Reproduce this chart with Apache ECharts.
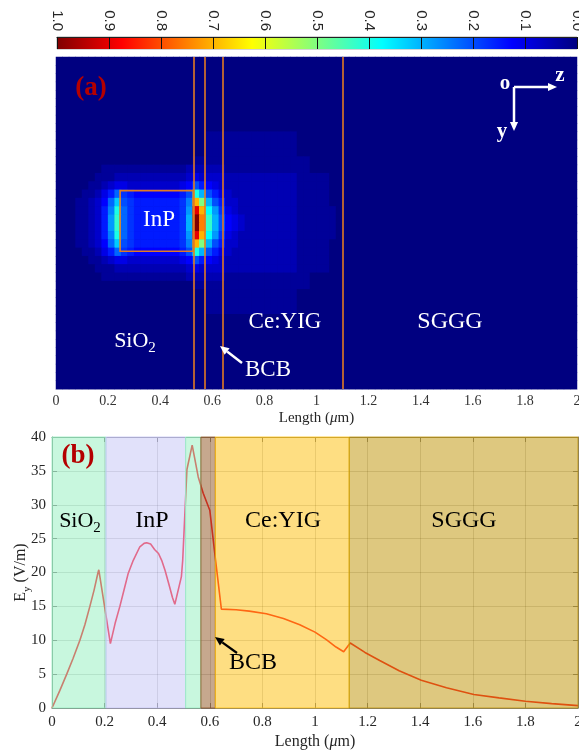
<!DOCTYPE html>
<html>
<head>
<meta charset="utf-8">
<title>InP / Ce:YIG mode field</title>
<script src="https://cdn.jsdelivr.net/npm/echarts@6/dist/echarts.min.js"></script>
<style>
html, body { margin: 0; padding: 0; background: #fff; }
#chart { width: 579px; height: 754px; }
</style>
</head>
<body>
<div id="chart"></div>
<script>
// ---- (b) Ey along the centre line ----
var lengthUm = [0, 0.03, 0.056, 0.08, 0.106, 0.125, 0.144, 0.16, 0.175, 0.178, 0.222, 0.24, 0.258, 0.275, 0.29,
  0.309, 0.334, 0.35, 0.36, 0.375, 0.39, 0.405, 0.417, 0.43, 0.445, 0.458, 0.467, 0.492, 0.497, 0.513,
  0.533, 0.556, 0.575, 0.6, 0.622, 0.644, 0.7, 0.75, 0.815, 0.88, 0.942, 1.0, 1.043, 1.08, 1.109,
  1.134, 1.19, 1.246, 1.32, 1.404, 1.5, 1.604, 1.7, 1.8, 1.9, 2.0];
var eyValues = [0, 2.6, 5.0, 7.3, 10.0, 12.3, 15.0, 17.4, 20.0, 20.4, 9.5, 12.5, 15.0, 17.6, 19.9,
  21.8, 23.8, 24.3, 24.4, 24.2, 23.4, 22.8, 21.8, 20.3, 18.2, 16.3, 15.3, 19.4, 21.8, 35.2,
  38.8, 34.1, 31.7, 29.2, 21.8, 14.6, 14.5, 14.3, 13.9, 13.2, 12.3, 11.2, 10.1, 9.0, 8.3,
  9.6, 8.2, 7.0, 5.5, 4.1, 3.0, 2.0, 1.5, 1.0, 0.65, 0.35];

// layer bands of (b), in um
var layerStart = [0, 0.205, 0.508, 0.566, 0.621, 1.13];
var layerEnd   = [0.205, 0.508, 0.566, 0.621, 1.13, 2];
var layerRgb   = ['145,239,189', '195,195,245', '145,239,189', '141,81,29', '253,189,5', '189,145,0'];

// ---- (a) ----
var interfaceX = [0.527, 0.573, 0.635, 1.096];   // orange lines, um
var inpBoxX = [0.246, 0.527];                    // um
var inpBoxRow = [16.1, 23.4];                    // in map rows

// normalised |E| map, one string per row (top -> bottom), one char per 0.025 um column
// value = position of the char in fieldLevels / 40  ('|' only groups the columns)
var fieldLevels = '0123456789abcdefghijklmnopqrstuvwxyzABCDE';
var fieldRows = [
  '0000|000000|00000000000|00|00|000000000|0000000000|0000000000|0000000000|0000000000|000000',
  '0000|000000|00000000000|00|00|000000000|0000000000|0000000000|0000000000|0000000000|000000',
  '0000|000000|00000000000|00|00|000000000|0000000000|0000000000|0000000000|0000000000|000000',
  '0000|000000|00000000000|00|00|000000000|0000000000|0000000000|0000000000|0000000000|000000',
  '0000|000000|00000000000|00|00|000000000|0000000000|0000000000|0000000000|0000000000|000000',
  '0000|000000|00000000000|00|00|000000000|0000000000|0000000000|0000000000|0000000000|000000',
  '0000|000000|00000000000|00|00|000000000|0000000000|0000000000|0000000000|0000000000|000000',
  '0000|000000|00000000000|00|00|000000000|0000000000|0000000000|0000000000|0000000000|000000',
  '0000|000000|00000000000|00|00|000000000|0000000000|0000000000|0000000000|0000000000|000000',
  '0000|000000|00000000000|00|11|111111111111|0000000|0000000000|0000000000|0000000000|000000',
  '0000|000000|00000000000|00|11|111111111111|0000000|0000000000|0000000000|0000000000|000000',
  '0000|000000|00000000000|00|11|111111111111|0000000|0000000000|0000000000|0000000000|000000',
  '0000|000000|00000000000|11|11|11111111111111|00000|0000000000|0000000000|0000000000|000000',
  '0000|000111|11111111112|22|22|2|1111111111111|00000|0000000000|0000000000|0000000000|000000',
  '0000|001112|22222222223|43|33|3|22222222222|11111|00|0000000000|0000000000|0000000000|000000',
  '0000|011234|43333333345|86|54|3|22222222222|11111|00|0000000000|0000000000|0000000000|000000',
  '0000|112469|76555555568|gc|86|43|2222222222|11111|00|0000000000|0000000000|0000000000|000000',
  '0001|12359d|8766666667a|sk|c8|633|222222222|11111|00|0000000000|0000000000|0000000000|000000',
  '0001|1236ag|9766666667b|As|fb|743|222222222|111111|0|0000000000|0000000000|0000000000|000000',
  '0001|1236bh|9766666667c|Eu|hc|8543|22222222|111111|0|0000000000|0000000000|0000000000|000000',
  '0001|1236bh|9766666667c|Eu|hc|8543|22222222|111111|0|0000000000|0000000000|0000000000|000000',
  '0001|1236ag|9766666667b|As|fb|743|222222222|111111|0|0000000000|0000000000|0000000000|000000',
  '0001|12359d|8766666667a|sk|c8|633|222222222|11111|00|0000000000|0000000000|0000000000|000000',
  '0000|112469|76555555568|gc|86|43|2222222222|11111|00|0000000000|0000000000|0000000000|000000',
  '0000|011234|43333333345|86|54|3|22222222222|11111|00|0000000000|0000000000|0000000000|000000',
  '0000|001112|22222222223|43|33|3|22222222222|11111|00|0000000000|0000000000|0000000000|000000',
  '0000|000111|11111111112|22|22|2|1111111111111|00000|0000000000|0000000000|0000000000|000000',
  '0000|000000|00000000000|11|11|11111111111111|00000|0000000000|0000000000|0000000000|000000',
  '0000|000000|00000000000|00|11|111111111111|0000000|0000000000|0000000000|0000000000|000000',
  '0000|000000|00000000000|00|11|111111111111|0000000|0000000000|0000000000|0000000000|000000',
  '0000|000000|00000000000|00|11|111111111111|0000000|0000000000|0000000000|0000000000|000000',
  '0000|000000|00000000000|00|00|000000000|0000000000|0000000000|0000000000|0000000000|000000',
  '0000|000000|00000000000|00|00|000000000|0000000000|0000000000|0000000000|0000000000|000000',
  '0000|000000|00000000000|00|00|000000000|0000000000|0000000000|0000000000|0000000000|000000',
  '0000|000000|00000000000|00|00|000000000|0000000000|0000000000|0000000000|0000000000|000000',
  '0000|000000|00000000000|00|00|000000000|0000000000|0000000000|0000000000|0000000000|000000',
  '0000|000000|00000000000|00|00|000000000|0000000000|0000000000|0000000000|0000000000|000000',
  '0000|000000|00000000000|00|00|000000000|0000000000|0000000000|0000000000|0000000000|000000',
  '0000|000000|00000000000|00|00|000000000|0000000000|0000000000|0000000000|0000000000|000000',
  '0000|000000|00000000000|00|00|000000000|0000000000|0000000000|0000000000|0000000000|000000'
];

// jet colormap, 0 -> 1
var jetColors = ['#000080', '#0000ff', '#0080ff', '#00ffff', '#80ff80', '#ffff00', '#ff8000', '#ff0000', '#800000'];

var SERIF = "'Liberation Serif', 'DejaVu Serif', serif";
var SANS = "'Liberation Sans', Arial, sans-serif";

// build heatmap cells
var nCols = 80;
var colNames = [], rowNames = [], heatData = [];
for (var c = 0; c < nCols; c++) colNames.push(String(c));
fieldRows.forEach(function (row, r) {
  rowNames.push(String(r));
  var s = row.replace(/\|/g, '');
  for (var c = 0; c < nCols; c++) {
    var lv = fieldLevels.indexOf(s.charAt(c));
    heatData.push([c, r, lv < 0 ? 0 : lv / 40]);
  }
});

var curveData = lengthUm.map(function (x, i) { return [x, eyValues[i]]; });

var barStops = jetColors.slice().reverse().map(function (col, i) {
  return { offset: i / (jetColors.length - 1), color: col };
});

var layerAreas = layerStart.map(function (x0, i) {
  return [
    { xAxis: x0, itemStyle: { color: 'rgba(' + layerRgb[i] + ',0.5)', borderColor: 'rgba(' + layerRgb[i] + ',0.75)', borderWidth: 1 } },
    { xAxis: layerEnd[i] }
  ];
});

function arrow(x1, y1, x2, y2, color, w, head) {
  var dx = x2 - x1, dy = y2 - y1, len = Math.sqrt(dx * dx + dy * dy);
  var ux = dx / len, uy = dy / len;
  var bx = x2 - ux * head, by = y2 - uy * head;
  var hw = head * 0.45;
  return [
    { type: 'line', shape: { x1: x1, y1: y1, x2: bx, y2: by }, style: { stroke: color, lineWidth: w }, z: 100 },
    { type: 'polygon', shape: { points: [[x2, y2], [bx - uy * hw, by + ux * hw], [bx + uy * hw, by - ux * hw]] },
      style: { fill: color }, z: 100 }
  ];
}

function label(text, x, y, color, size, bold) {
  return { type: 'text', x: x, y: y, z: 100,
    style: { text: text, fill: color, font: (bold ? 'bold ' : '') + size + 'px ' + SERIF, align: 'center', verticalAlign: 'middle' } };
}

function subLabel(main, sub, x, y, color, size) {
  return { type: 'text', x: x, y: y, z: 100,
    style: { text: '{m|' + main + '}{s|' + sub + '}', align: 'center', verticalAlign: 'middle',
      rich: {
        m: { fill: color, fontSize: size, fontFamily: SERIF, lineHeight: size + 8 },
        s: { fill: color, fontSize: Math.round(size * 0.68), fontFamily: SERIF, verticalAlign: 'bottom', lineHeight: Math.round(size * 0.6) }
      } } };
}

var graphics = [
  label('(a)', 91, 88, '#b40000', 27, true),
  label('InP', 159, 220, '#fff', 23),
  subLabel('SiO', '2', 135, 341, '#fff', 22),
  label('Ce:YIG', 285, 322, '#fff', 23),
  label('SGGG', 450, 322, '#fff', 24),
  label('BCB', 268, 370, '#fff', 23),
  label('o', 505, 84, '#fff', 21, true),
  label('z', 560, 76, '#fff', 21, true),
  label('y', 502, 132, '#fff', 21, true),
  label('(b)', 78, 456, '#b40000', 27, true),
  subLabel('SiO', '2', 80, 521, '#000', 22),
  label('InP', 152, 521, '#000', 24),
  label('Ce:YIG', 283, 521, '#000', 24),
  label('SGGG', 464, 521, '#000', 24),
  label('BCB', 253, 663, '#000', 24)
].concat(
  arrow(242, 363, 220, 346, '#fff', 2.5, 9),
  arrow(514, 87, 557, 87, '#fff', 2.5, 9),
  arrow(514, 87, 514, 131, '#fff', 2.5, 9),
  arrow(237, 653, 215, 637, '#000', 2.2, 9)
);

var chart = echarts.init(document.getElementById('chart'));

var option = {
  animation: false,
  backgroundColor: '#fff',
  grid: [
    { left: 57, top: 37, width: 520, height: 12, outerBoundsMode: 'none', containLabel: false,
      show: true, borderColor: '#aaa', borderWidth: 1 },
    { left: 56, top: 57, width: 521, height: 332, outerBoundsMode: 'none', containLabel: false,
      show: true, backgroundColor: '#000080', borderWidth: 0 },
    { left: 52, top: 437, width: 526, height: 271, outerBoundsMode: 'none', containLabel: false }
  ],
  visualMap: {
    show: false, type: 'continuous', min: 0, max: 1, seriesIndex: 1, dimension: 2,
    inRange: { color: jetColors }
  },
  xAxis: [
    { // colorbar
      gridIndex: 0, type: 'value', min: 0, max: 1, interval: 0.1, inverse: true, position: 'top', z: 10,
      axisLine: { show: true, onZero: false, lineStyle: { color: '#222', width: 1 } },
      axisTick: { show: true, inside: true, length: 12, lineStyle: { color: '#111', width: 1 } },
      axisLabel: { rotate: 90, margin: 6, color: '#262626', fontSize: 15, fontFamily: SANS,
        formatter: function (v) { return v.toFixed(1); } },
      splitLine: { show: false }
    },
    { gridIndex: 1, type: 'category', data: colNames, show: false },
    { // (a) length axis
      gridIndex: 1, type: 'value', min: 0, max: 2, interval: 0.2, position: 'bottom',
      axisLine: { show: true, onZero: false, lineStyle: { color: '#b8b8d8' } },
      axisTick: { show: false },
      axisLabel: { margin: 5, color: '#333', fontSize: 14, fontFamily: SERIF },
      splitLine: { show: false },
      name: 'Length ({i|\u03bc}m)', nameLocation: 'middle', nameGap: 22,
      nameTextStyle: { color: '#262626', fontSize: 15, fontFamily: SERIF,
        rich: { i: { fontStyle: 'italic', fontSize: 15, fontFamily: SERIF, color: '#262626' } } }
    },
    { // (b) length axis
      gridIndex: 2, type: 'value', min: 0, max: 2, interval: 0.2, position: 'bottom',
      axisLine: { show: true, onZero: false, lineStyle: { color: '#7a7a7a' } },
      axisTick: { show: true, inside: true, length: 5, lineStyle: { color: '#7a7a7a' } },
      axisLabel: { margin: 7, color: '#262626', fontSize: 15, fontFamily: SERIF },
      splitLine: { show: true, lineStyle: { color: 'rgba(0,0,0,0.16)', width: 1 } },
      name: 'Length ({i|\u03bc}m)', nameLocation: 'middle', nameGap: 26,
      nameTextStyle: { color: '#262626', fontSize: 16, fontFamily: SERIF,
        rich: { i: { fontStyle: 'italic', fontSize: 16, fontFamily: SERIF, color: '#262626' } } }
    },
    { // (b) top frame
      gridIndex: 2, type: 'value', min: 0, max: 2, interval: 0.2, position: 'top',
      axisLine: { show: true, onZero: false, lineStyle: { color: '#7a7a7a' } },
      axisTick: { show: true, inside: true, length: 5, lineStyle: { color: '#7a7a7a' } },
      axisLabel: { show: false }, splitLine: { show: false }
    }
  ],
  yAxis: [
    { gridIndex: 0, type: 'value', min: 0, max: 1, show: false },
    { gridIndex: 1, type: 'category', data: rowNames, inverse: true, show: false },
    { gridIndex: 1, type: 'value', min: 0, max: 40, inverse: true, show: false },
    { // (b) Ey axis
      gridIndex: 2, type: 'value', min: 0, max: 40, interval: 5, position: 'left',
      axisLine: { show: true, onZero: false, lineStyle: { color: '#7a7a7a' } },
      axisTick: { show: true, inside: true, length: 5, lineStyle: { color: '#7a7a7a' } },
      axisLabel: { margin: 6, color: '#262626', fontSize: 15, fontFamily: SERIF },
      splitLine: { show: true, lineStyle: { color: 'rgba(0,0,0,0.16)', width: 1 } },
      name: 'E{s|y} (V/m)', nameLocation: 'middle', nameGap: 19, nameRotate: 90, nameMoveOverlap: false,
      nameTextStyle: { color: '#262626', fontSize: 16, fontFamily: SERIF, lineHeight: 24,
        rich: { s: { fontSize: 11, fontFamily: SERIF, color: '#262626', verticalAlign: 'bottom', lineHeight: 12 } } }
    },
    { // (b) right frame
      gridIndex: 2, type: 'value', min: 0, max: 40, interval: 5, position: 'right',
      axisLine: { show: true, onZero: false, lineStyle: { color: '#7a7a7a' } },
      axisTick: { show: true, inside: true, length: 5, lineStyle: { color: '#7a7a7a' } },
      axisLabel: { show: false }, splitLine: { show: false }
    }
  ],
  series: [
    { // colorbar strip
      type: 'line', xAxisIndex: 0, yAxisIndex: 0, data: [], silent: true,
      markArea: { silent: true, z: 2,
        itemStyle: { color: new echarts.graphic.LinearGradient(0, 0, 1, 0, barStops) },
        data: [[{ xAxis: 0 }, { xAxis: 1 }]] }
    },
    { // (a) field map
      type: 'heatmap', xAxisIndex: 1, yAxisIndex: 1, data: heatData, silent: true, progressive: 0,
      itemStyle: { borderWidth: 0 }, emphasis: { disabled: true }
    },
    { // (a) interfaces and InP core outline
      type: 'line', xAxisIndex: 2, yAxisIndex: 2, data: [], silent: true, z: 5,
      markLine: { silent: true, z: 6, symbol: ['none', 'none'], label: { show: false },
        lineStyle: { color: '#e27a22', width: 1.6, type: 'solid' },
        data: interfaceX.map(function (x) { return { xAxis: x }; }) },
      markArea: { silent: true, z: 6,
        itemStyle: { color: 'rgba(0,0,0,0)', borderColor: '#e27a22', borderWidth: 1.6 },
        data: [[{ xAxis: inpBoxX[0], yAxis: inpBoxRow[0] }, { xAxis: inpBoxX[1], yAxis: inpBoxRow[1] }]] }
    },
    { // (b) Ey curve
      type: 'line', xAxisIndex: 3, yAxisIndex: 3, data: curveData, silent: true, z: 2,
      showSymbol: false, symbol: 'none',
      lineStyle: { color: '#ff1020', width: 1.6 }
    },
    { // (b) translucent layer bands, drawn over the curve
      type: 'line', xAxisIndex: 3, yAxisIndex: 3, data: [], silent: true, z: 3,
      markArea: { silent: true, z: 4, data: layerAreas }
    }
  ],
  graphic: graphics
};

chart.setOption(option);
</script>
</body>
</html>
